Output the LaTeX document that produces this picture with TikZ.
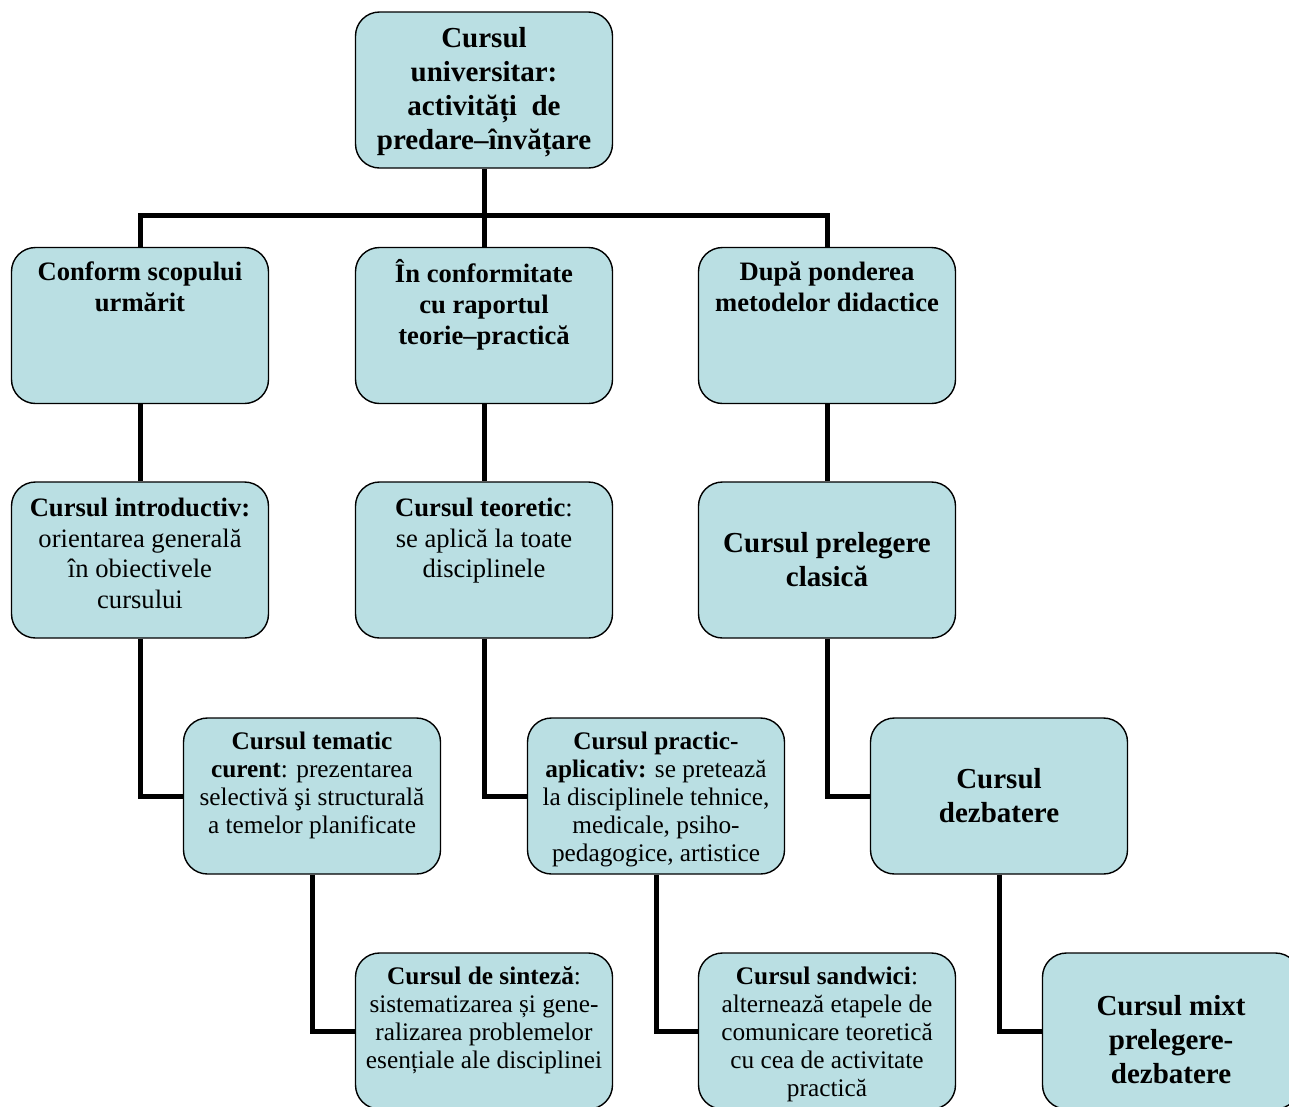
\documentclass[tikz,border=0pt]{standalone}
\usepackage{fontspec}
\setmainfont{Liberation Serif}
\definecolor{boxfill}{RGB}{186,223,227}
\tikzset{
  cbox/.style={draw=black, fill=boxfill, rounded corners=24pt, line width=1.4pt,
    minimum width=257pt, minimum height=156pt, inner sep=0pt},
  toptxt/.style={anchor=north, align=center, inner sep=0pt, yshift=-12pt},
  midtxt/.style={anchor=center, align=center, inner sep=0pt},
  fa/.style={font=\fontsize{29}{34}\selectfont\bfseries},
  fb/.style={font=\fontsize{26.6}{31}\selectfont\bfseries},
  fc/.style={font=\fontsize{26.6}{30.5}\selectfont},
  fd/.style={font=\fontsize{25.3}{28}\selectfont},
  conn/.style={line width=5pt}
}
\begin{document}
\begin{tikzpicture}[x=1pt,y=-1pt]
\useasboundingbox (0,0) rectangle (1289,1106);
% boxes
\node[cbox] (top) at (484,90) {};
\node[cbox] (a1) at (140,325.5) {};
\node[cbox] (b1) at (484,325.5) {};
\node[cbox] (c1) at (827,325.5) {};
\node[cbox] (a2) at (140,560) {};
\node[cbox] (b2) at (484,560) {};
\node[cbox] (c2) at (827,560) {};
\node[cbox] (a3) at (312,796) {};
\node[cbox] (b3) at (656,796) {};
\node[cbox] (c3) at (999,796) {};
\node[cbox] (a4) at (484,1031) {};
\node[cbox] (b4) at (827,1031) {};
\node[cbox] (c4) at (1171,1031) {};
% connectors
\coordinate (bar) at (484,215);
\draw[conn] (top.south) -- (b1.north);
\draw[conn] (a1.north) -- (a1.north |- bar) -- (c1.north |- bar) -- (c1.north);
\draw[conn] (a1.south) -- (a2.north);
\draw[conn] (b1.south) -- (b2.north);
\draw[conn] (c1.south) -- (c2.north);
\draw[conn] (a2.south) |- (a3.west);
\draw[conn] (b2.south) |- (b3.west);
\draw[conn] (c2.south) |- (c3.west);
\draw[conn] (a3.south) |- (a4.west);
\draw[conn] (b3.south) |- (b4.west);
\draw[conn] (c3.south) |- (c4.west);
% texts
\node[toptxt,fa] (ttop) at (top.north) {\strut Cursul\\universitar:\\activități~ de\\predare–învățare};
\node[toptxt,fb] (ta1) at (a1.north) {\strut Conform scopului\\urmărit};
\node[toptxt,fb] (tb1) at (b1.north) {\strut În conformitate\\cu raportul\\teorie–practică};
\node[toptxt,fb] (tc1) at (c1.north) {\strut După ponderea\\metodelor didactice};
\node[toptxt,fc,yshift=-2pt] (ta2) at (a2.north) {\strut\textbf{Cursul introductiv:}\\orientarea generală\\în obiectivele\\cursului};
\node[toptxt,fc,yshift=-2pt] (tb2) at (b2.north) {\strut\textbf{Cursul teoretic}:\\se aplică la toate\\disciplinele};
\node[midtxt,fa] (tc2) at (c2.center) {Cursul prelegere\\clasică};
\node[toptxt,fd] (ta3) at (a3.north) {\strut\textbf{Cursul tematic}\\\textbf{curent}: prezentarea\\selectivă şi structurală\\a temelor planificate};
\node[toptxt,fd] (tb3) at (b3.north) {\strut\textbf{Cursul practic-}\\\textbf{aplicativ:} se pretează\\la disciplinele tehnice,\\medicale, psiho-\\pedagogice, artistice};
\node[midtxt,fa] (tc3) at (c3.center) {Cursul\\dezbatere};
\node[toptxt,fd] (ta4) at (a4.north) {\strut\textbf{Cursul de sinteză}:\\sistematizarea și gene-\\ralizarea problemelor\\esențiale ale disciplinei};
\node[toptxt,fd] (tb4) at (b4.north) {\strut\textbf{Cursul sandwici}:\\alternează etapele de\\comunicare teoretică\\cu cea de activitate\\practică};
\node[toptxt,fa,yshift=-27pt] (tc4) at (c4.north) {\strut Cursul mixt\\prelegere-\\dezbatere};
\end{tikzpicture}
\end{document}
